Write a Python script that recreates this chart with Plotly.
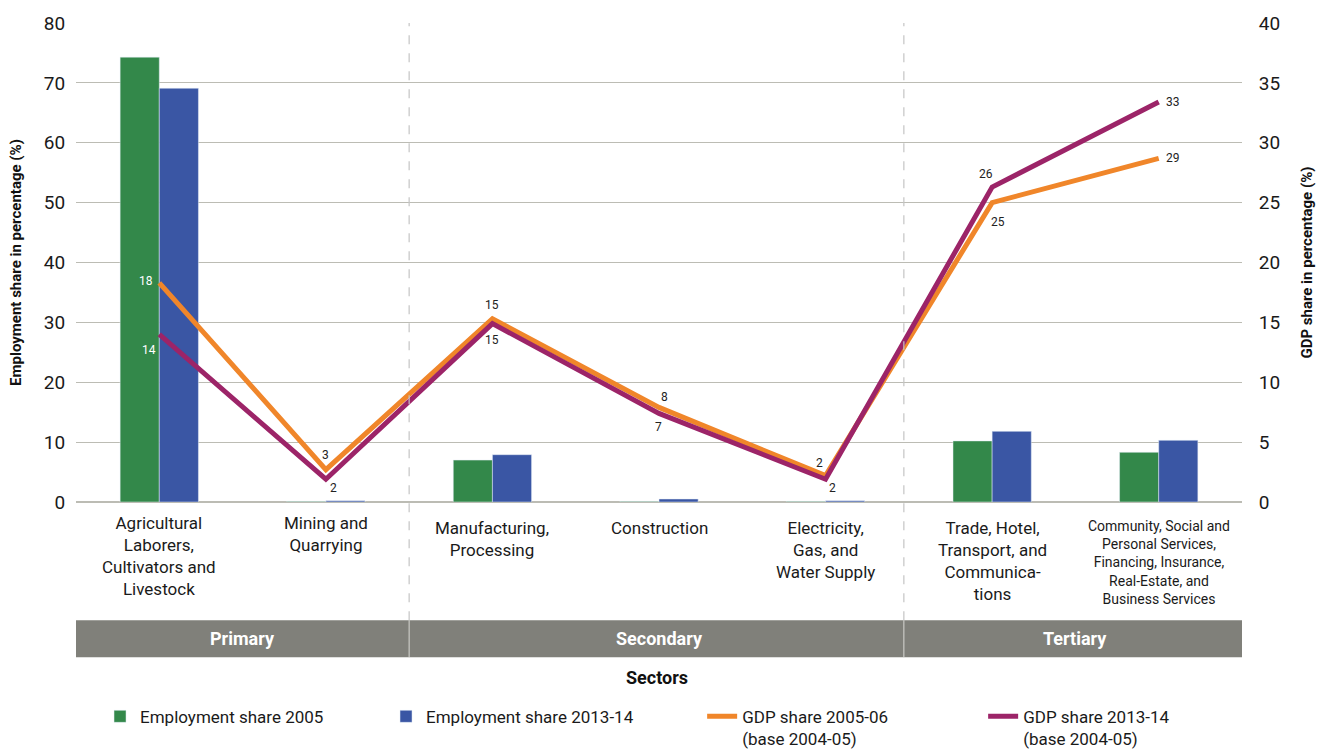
import plotly.graph_objects as go

# Sector categories and their broad groups
sectors = [
    "Agricultural<br>Laborers,<br>Cultivators and<br>Livestock",
    "Mining and<br>Quarrying",
    "Manufacturing,<br>Processing",
    "Construction",
    "Electricity,<br>Gas, and<br>Water Supply",
    "Trade, Hotel,<br>Transport, and<br>Communica-<br>tions",
    "Community, Social and<br>Personal Services,<br>Financing, Insurance,<br>Real-Estate, and<br>Business Services",
]
groups = ["Primary", "Secondary", "Tertiary"]
group_spans = [(0, 1), (2, 4), (5, 6)]

# Employment share (%), left axis
emp_2005 = [74.3, 0.1, 7.0, 0.1, 0.1, 10.2, 8.3]
emp_2013 = [69.1, 0.2, 7.9, 0.5, 0.2, 11.8, 10.3]

# GDP share (%), right axis
gdp_2005 = [18.3, 2.7, 15.3, 7.9, 2.2, 25.0, 28.7]
gdp_2013 = [14.0, 1.9, 14.9, 7.4, 1.9, 26.3, 33.4]

GREEN = "#33884a"
BLUE = "#3a56a4"
ORANGE = "#f0862a"
PURPLE = "#9c2468"
GRID = "#bcbcb4"
BAND = "#80807a"
FONT = "Roboto"

x = list(range(len(sectors)))

fig = go.Figure()
fig.add_trace(go.Bar(x=x, y=emp_2005, name="Employment share 2005",
                     marker_color=GREEN, yaxis="y", legend="legend"))
fig.add_trace(go.Bar(x=x, y=emp_2013, name="Employment share 2013-14",
                     marker_color=BLUE, yaxis="y", legend="legend"))
fig.add_trace(go.Scatter(x=x, y=gdp_2005, name="GDP share 2005-06<br>(base 2004-05)",
                         mode="lines", line=dict(color=ORANGE, width=5), yaxis="y2",
                         legend="legend2"))
fig.add_trace(go.Scatter(x=x, y=gdp_2013, name="GDP share 2013-14<br>(base 2004-05)",
                         mode="lines", line=dict(color=PURPLE, width=5), yaxis="y2",
                         legend="legend2"))

annotations = []

# Value labels on the GDP lines (pixel offsets from each point)
orange_off = [(-13, 2), (0, 15), (0, 14), (5, 10), (-6, 13), (6, -19), (14, 0)]
purple_off = [(-10, -16), (8, -9), (0, -16), (-1, -14), (7, -9), (-6, 13), (14, 0)]
for series, offs in ((gdp_2005, orange_off), (gdp_2013, purple_off)):
    for i, v in enumerate(series):
        dx, dy = offs[i]
        annotations.append(dict(
            x=i, y=v, xref="x", yref="y2", text=str(int(round(v))),
            showarrow=False, xshift=dx, yshift=dy,
            font=dict(family=FONT, size=12, color="white" if i == 0 else "#222222"),
        ))

# Category labels under the axis
for i, label in enumerate(sectors):
    small = i == 6
    annotations.append(dict(
        x=i, y=-0.018 if i < 2 else -0.03, xref="x", yref="paper", text=label,
        showarrow=False, yanchor="top", xanchor="center", align="center",
        font=dict(family=FONT, size=14 if small else 17, color="#1a1a1a"),
    ))

shapes = []
band_top, band_bot = -0.247, -0.324

# Grey group band with group names
shapes.append(dict(type="rect", xref="x", yref="paper", x0=-0.5, x1=6.5,
                   y0=band_bot, y1=band_top, fillcolor=BAND, line_width=0, layer="below"))
for name, (a, b) in zip(groups, group_spans):
    annotations.append(dict(
        x=(a + b) / 2, y=(band_top + band_bot) / 2, xref="x", yref="paper",
        xanchor="center", yanchor="middle",
        text=f"<b>{name}</b>", showarrow=False,
        font=dict(family=FONT, size=18, color="white"),
    ))

# Group dividers: dashed in the plot, solid white in the band
for xb in (1.5, 4.47):
    shapes.append(dict(type="line", xref="x", yref="paper", x0=xb, x1=xb,
                       y0=band_top, y1=1, line=dict(color="#c4c4c4", width=1.2, dash="dash")))
    shapes.append(dict(type="line", xref="x", yref="paper", x0=xb, x1=xb,
                       y0=band_bot, y1=band_top, line=dict(color="#d8d8d4", width=1)))

annotations.append(dict(x=0.498, y=-0.367, xref="paper", yref="paper",
                        xanchor="center", yanchor="middle",
                        text="<b>Sectors</b>", showarrow=False,
                        font=dict(family=FONT, size=18, color="#111111")))

legend_common = dict(orientation="h", yanchor="top", xanchor="left", valign="top",
                     yref="container", entrywidthmode="pixels",
                     bgcolor="rgba(0,0,0,0)",
                     font=dict(family=FONT, size=17, color="#1a1a1a"),
                     traceorder="normal")

fig.update_layout(
    width=1327, height=753,
    margin=dict(l=76, r=85, t=23, b=251),
    paper_bgcolor="white", plot_bgcolor="white",
    barmode="group", bargap=0.53, bargroupgap=0,
    font=dict(family=FONT, color="#1a1a1a"),
    xaxis=dict(range=[-0.5, 6.5], showticklabels=False, showgrid=False,
               zeroline=False, showline=False, ticks=""),
    yaxis=dict(range=[0, 80], dtick=10, showgrid=True, gridcolor=GRID, gridwidth=1,
               zeroline=True, zerolinecolor=GRID, zerolinewidth=1.5, showline=False,
               tickfont=dict(family=FONT, size=19, color="#1a1a1a"),
               ticks="outside", ticklen=6, tickcolor="rgba(0,0,0,0)",
               title=dict(text="<b>Employment share in percentage (%)</b>",
                          font=dict(family=FONT, size=15, color="#111111"), standoff=18)),
    yaxis2=dict(range=[0, 40], dtick=5, overlaying="y", side="right", showgrid=False,
                zeroline=False, showline=False,
                tickfont=dict(family=FONT, size=19, color="#1a1a1a"),
                ticks="outside", ticklen=12, tickcolor="rgba(0,0,0,0)",
                title=dict(text="<b>GDP share in percentage (%)</b>",
                           font=dict(family=FONT, size=15, color="#111111"), standoff=22)),
    legend=dict(x=0.0206, y=0.072, entrywidth=241, **legend_common),
    legend2=dict(x=0.537, y=0.072, entrywidth=236, **legend_common),
    annotations=annotations,
    shapes=shapes,
)

fig.write_html("out.html")
